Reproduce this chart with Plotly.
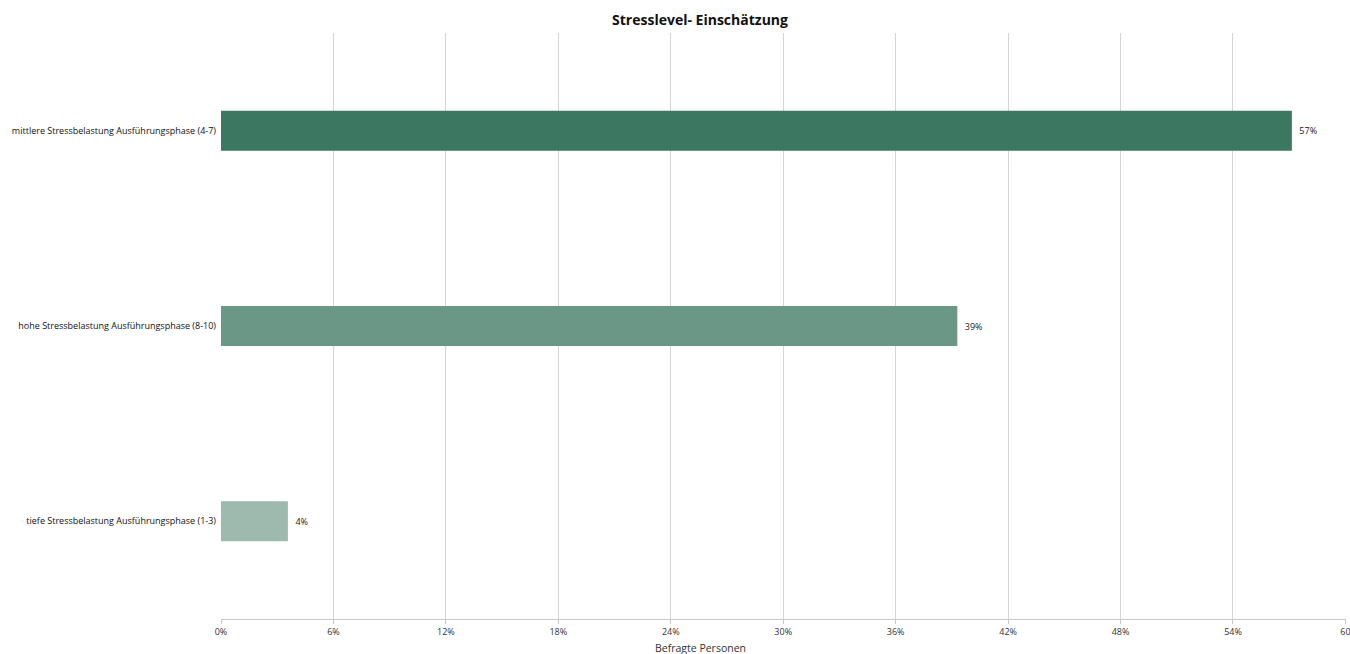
import plotly.graph_objects as go

categories = [
    "tiefe Stressbelastung Ausführungsphase (1-3)",
    "hohe Stressbelastung Ausführungsphase (8-10)",
    "mittlere Stressbelastung Ausführungsphase (4-7)",
]
values = [3.57, 39.29, 57.14]
labels = ["4%", "39%", "57%"]
colors = ["#9eb9ad", "#6b9886", "#3c7762"]
tick_vals = [0, 6, 12, 18, 24, 30, 36, 42, 48, 54, 60]
tick_text = ["0%", "6%", "12%", "18%", "24%", "30%", "36%", "42%", "48%", "54%", "60"]
x_title = "Befragte Personen"

font_family = "Open Sans, Noto Sans, sans-serif"

fig = go.Figure(
    go.Bar(
        y=categories,
        x=values,
        orientation="h",
        marker=dict(color=colors, line=dict(width=0)),
        text=["\u2002" + t for t in labels],
        textposition="outside",
        textfont=dict(size=9, color="#222222", family=font_family),
        width=0.205,
        cliponaxis=False,
    )
)

fig.update_layout(
    width=1350,
    height=654,
    paper_bgcolor="white",
    plot_bgcolor="white",
    margin=dict(l=221, r=4, t=33, b=35, autoexpand=False),
    title=dict(
        text="<b>Stresslevel- Einschätzung</b>",
        x=(700 - 0) / 1350,
        xanchor="center",
        y=1 - 20 / 654,
        yanchor="middle",
        font=dict(size=14, color="#111111", family=font_family),
    ),
    showlegend=False,
    font=dict(family=font_family, color="#333333"),
    xaxis=dict(
        range=[0, 60.03],
        tickvals=tick_vals,
        ticktext=tick_text,
        tickfont=dict(size=9, color="#333333"),
        ticklabeloverflow="allow",
        automargin=False,
        showgrid=True,
        gridcolor="#d4d4d4",
        gridwidth=1,
        showline=True,
        linecolor="#c8c8c8",
        linewidth=1,
        ticks="outside",
        ticklen=4,
        tickcolor="#c8c8c8",
        zeroline=False,
        fixedrange=True,
    ),
    yaxis=dict(
        tickfont=dict(size=9, color="#111111"),
        showgrid=False,
        showline=False,
        ticks="",
        ticklabelstandoff=4,
        automargin=False,
        fixedrange=True,
    ),
    annotations=[
        dict(
            text=x_title,
            xref="paper",
            yref="paper",
            x=(700 - 221) / 1125,
            y=-(648 - 619) / 586,
            xanchor="center",
            yanchor="middle",
            showarrow=False,
            font=dict(size=10.5, color="#333333", family=font_family),
        )
    ],
)

fig.write_html("out.html")
